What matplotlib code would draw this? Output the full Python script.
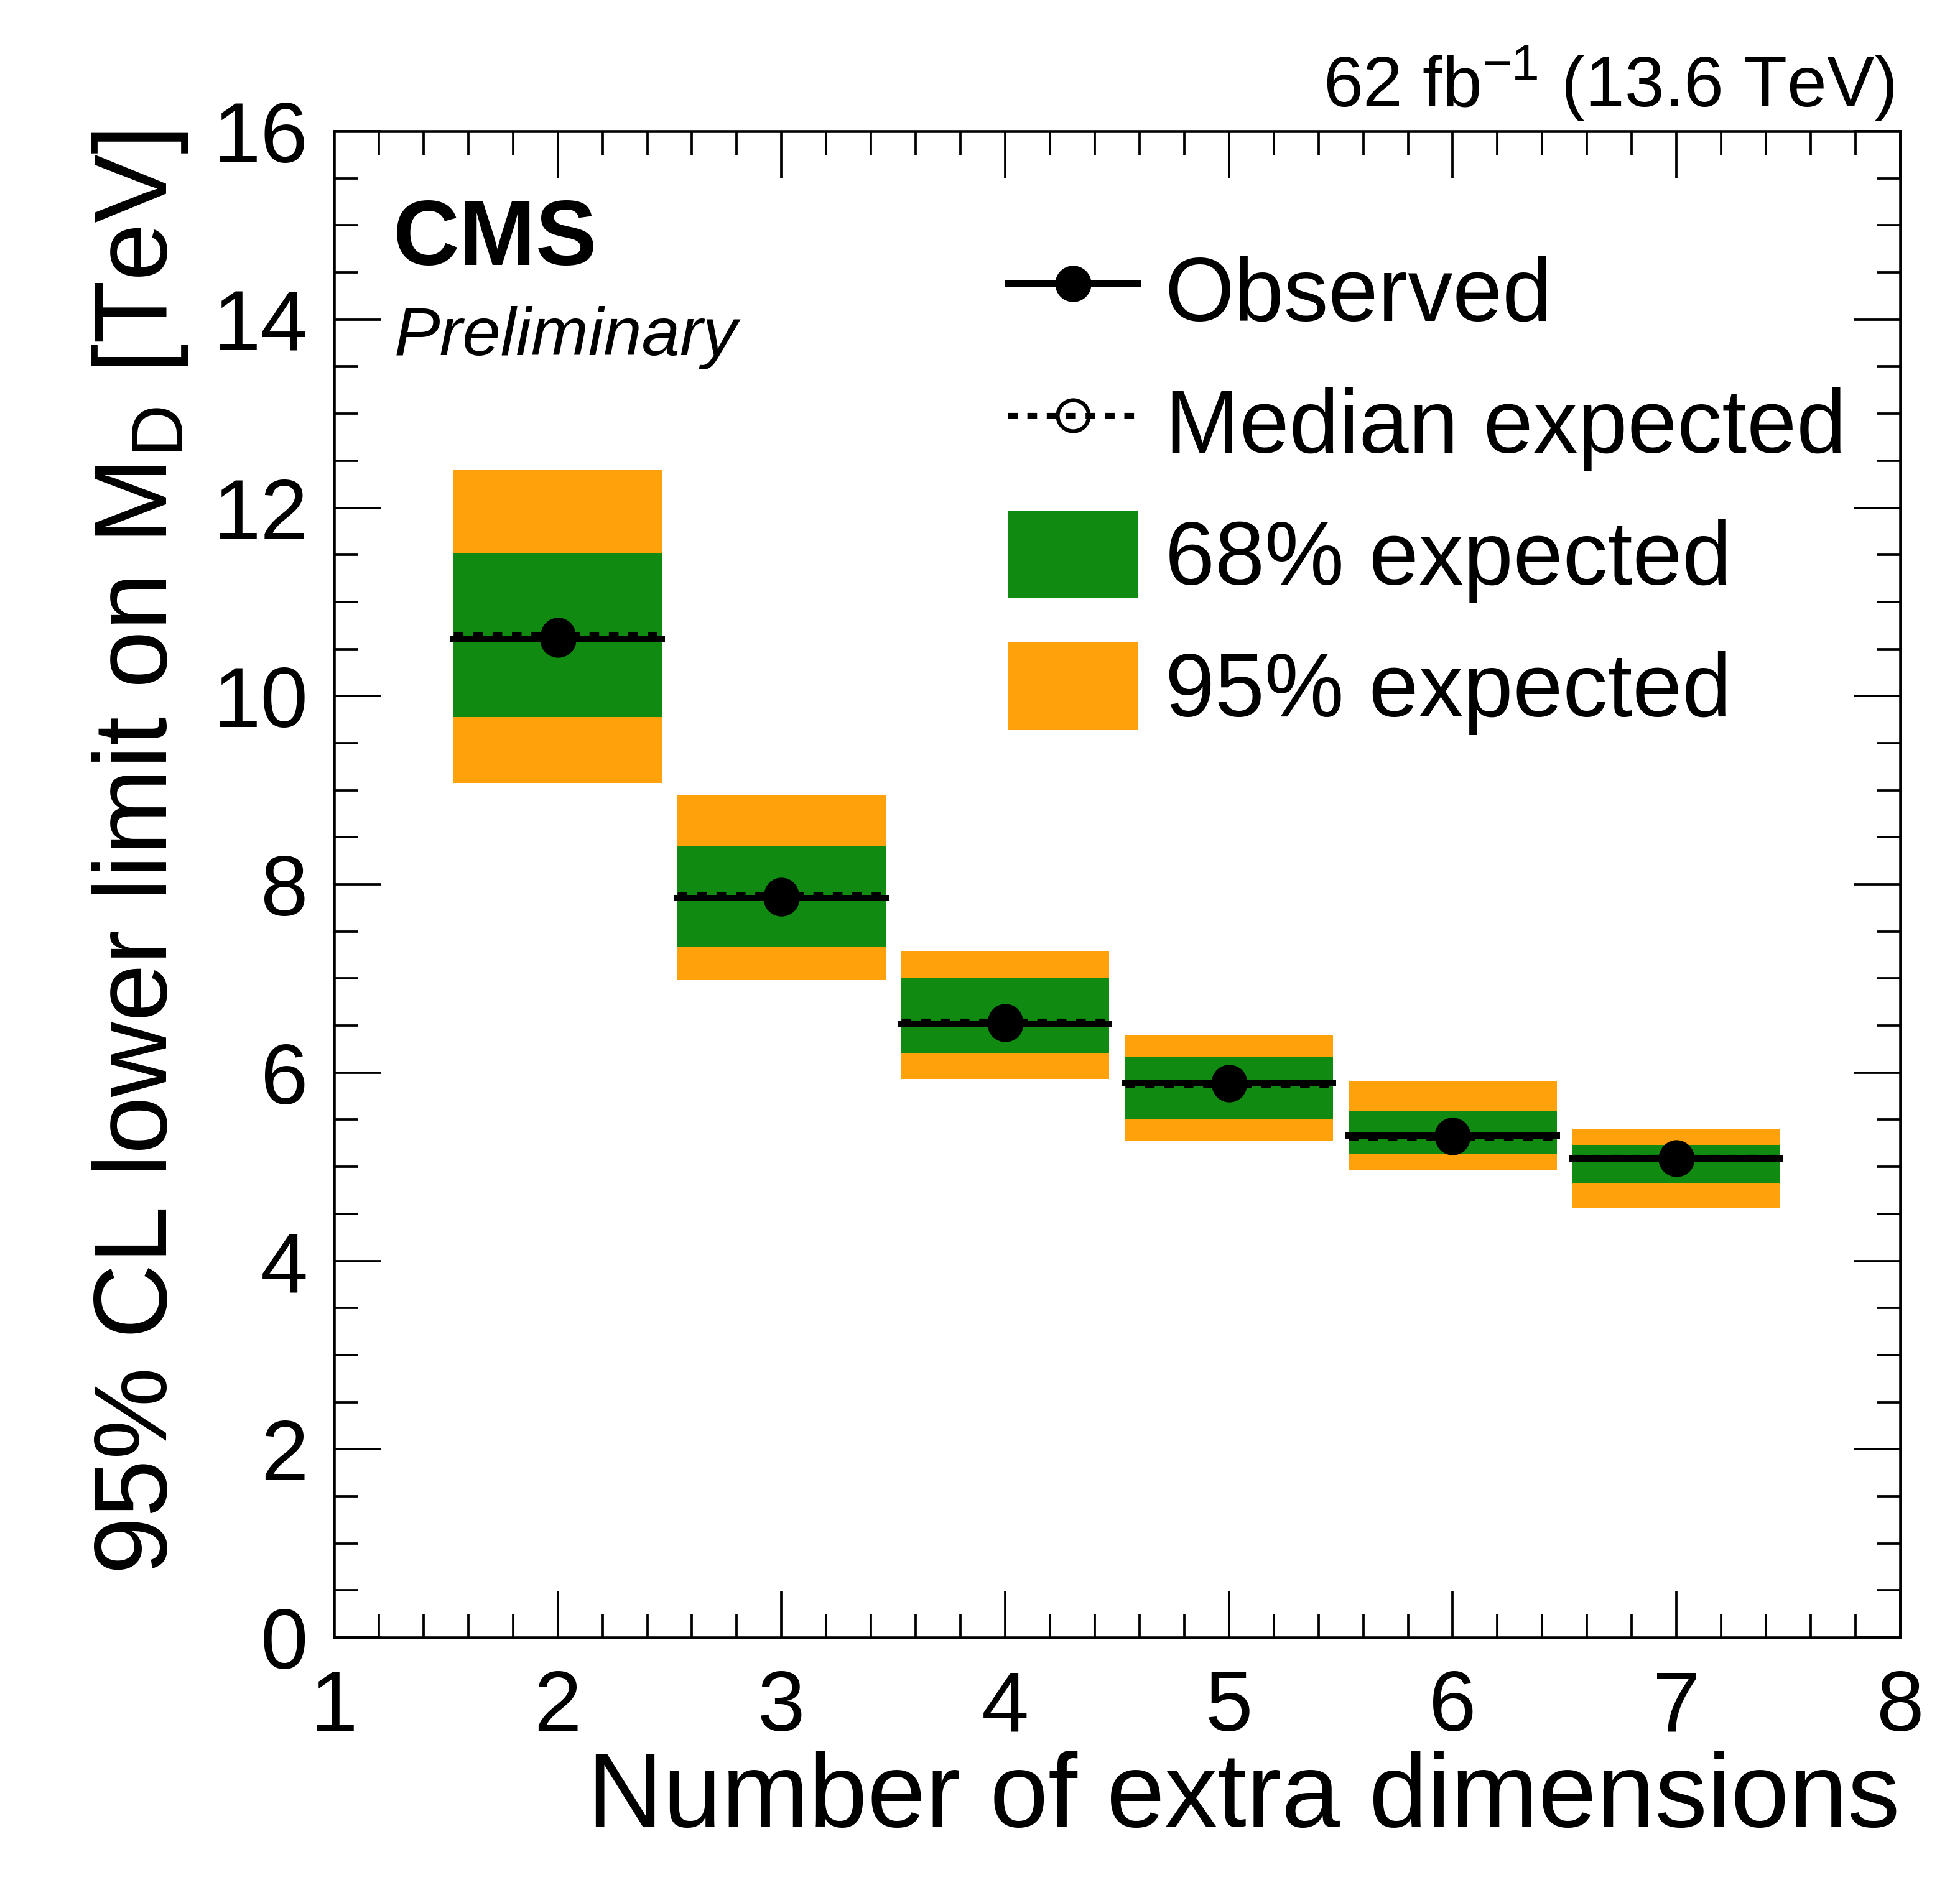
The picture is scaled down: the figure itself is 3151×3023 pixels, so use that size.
import numpy as np
import matplotlib
matplotlib.use("Agg")
import matplotlib.pyplot as plt
from matplotlib.ticker import MultipleLocator
from matplotlib.patches import Patch
from matplotlib.lines import Line2D

# Limites por número de dimensões extras
n_dim = [2, 3, 4, 5, 6, 7]
observado = [10.60, 7.855, 6.52, 5.89, 5.33, 5.09]
esperado = [10.65, 7.885, 6.55, 5.87, 5.31, 5.10]
lo68 = [9.775, 7.335, 6.20, 5.51, 5.13, 4.83]
hi68 = [11.52, 8.40, 7.01, 6.17, 5.595, 5.235]
lo95 = [9.08, 6.98, 5.935, 5.276, 4.962, 4.566]
hi95 = [12.405, 8.95, 7.295, 6.40, 5.91, 5.40]

verde = '#108a10'
laranja = '#ffa10b'
largura = 0.93

plt.rcParams['font.family'] = ['Liberation Sans', 'DejaVu Sans']
plt.rcParams['mathtext.fontset'] = 'custom'
plt.rcParams['mathtext.rm'] = 'Liberation Sans'
plt.rcParams['mathtext.it'] = 'Liberation Sans:italic'
plt.rcParams['mathtext.bf'] = 'Liberation Sans:bold'

fig = plt.figure(figsize=(3151 / 300, 3023 / 300), dpi=300)
ax = fig.add_axes([0.1704, 0.129, 0.7991, 0.8012])

x = np.array(n_dim, dtype=float)
lo95, hi95 = np.array(lo95), np.array(hi95)
lo68, hi68 = np.array(lo68), np.array(hi68)

# Bandas de 95% e 68%
ax.bar(x, hi95 - lo95, bottom=lo95, width=largura, color=laranja, linewidth=0, zorder=1)
ax.bar(x, hi68 - lo68, bottom=lo68, width=largura, color=verde, linewidth=0, zorder=2)

# Linhas do esperado (tracejada) e observado (contínua)
for xi, e, o in zip(x, esperado, observado):
    ax.plot([xi - largura / 2, xi + largura / 2], [e, e], color='black', lw=2.2,
            ls=(0, (1.7, 1.7)), zorder=3)
    ax.plot([xi - largura / 2, xi + largura / 2], [o, o], color='black', lw=2.4, zorder=4)

ax.plot(x, esperado, ls='none', marker='o', ms=12, mfc='none', mec='black', mew=1.5, zorder=5)
ax.plot(x, observado, ls='none', marker='o', ms=13, mfc='black', mec='black', zorder=6)

# Eixos
ax.set_xlim(1, 8)
ax.set_ylim(0, 16)
ax.xaxis.set_major_locator(MultipleLocator(1))
ax.xaxis.set_minor_locator(MultipleLocator(0.2))
ax.yaxis.set_major_locator(MultipleLocator(2))
ax.yaxis.set_minor_locator(MultipleLocator(0.5))
ax.tick_params(which='both', direction='in', top=True, right=True, width=0.9)
ax.tick_params(which='major', length=18, labelsize=33)
ax.tick_params(which='minor', length=9)
ax.tick_params(axis='y', pad=10)
ax.tick_params(axis='x', pad=12)
for s in ax.spines.values():
    s.set_linewidth(1.1)

ax.set_xlabel('Number of extra dimensions', fontsize=40.5, loc='right')
ax.set_ylabel(r'95% CL lower limit on M$_{\mathrm{D}}$ [TeV]', fontsize=40, loc='top')
ax.xaxis.set_label_coords(1.0, -0.075)
ax.yaxis.set_label_coords(-0.092, 1.0)

# Textos do CMS
fig.text(0.2006, 0.8592, 'CMS', fontsize=35.5, fontweight='bold', va='baseline')
fig.text(0.2012, 0.8111, 'Preliminary', fontsize=26.5, style='italic', va='baseline')
fig.text(0.9667, 0.9431, r'62 fb$^{-1}$ (13.6 TeV)', fontsize=27.5, ha='right', va='baseline')

# Legenda
handles = [
    Line2D([], [], color='black', lw=2.4, marker='o', ms=13, mfc='black'),
    Line2D([], [], color='black', lw=2.2, ls=(0, (1.7, 1.7)), marker='o', ms=12,
           mfc='none', mew=1.5),
    Patch(facecolor=verde, linewidth=0),
    Patch(facecolor=laranja, linewidth=0),
]
rotulos = ['Observed', 'Median expected', '68% expected', '95% expected']
fig.legend(handles, rotulos, loc='upper left', bbox_to_anchor=(0.514, 0.869),
           fontsize=34.5, frameon=False, handlelength=1.46, handleheight=1.13,
           handletextpad=0.3, labelspacing=0.44, borderpad=0, borderaxespad=0)

plt.savefig('out.png', dpi=300)
